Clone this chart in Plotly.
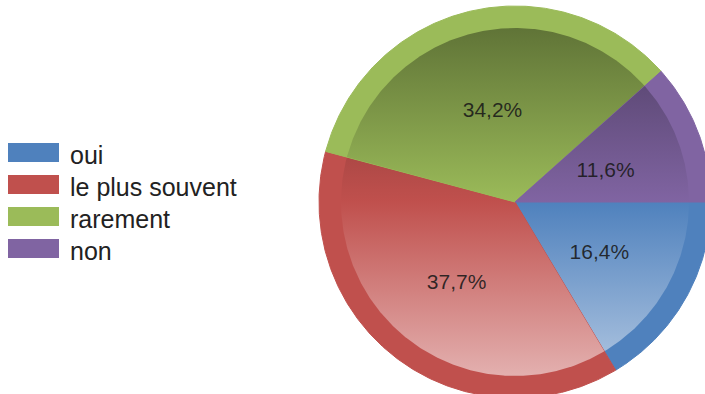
import numpy as np
import plotly.graph_objects as go

# Survey answers and their shares (%)
categories = ["oui", "le plus souvent", "rarement", "non"]
shares = [16.4, 37.7, 34.2, 11.6]
slice_colors = ["#4F81BD", "#C0504D", "#9BBB59", "#8064A2"]

# Canvas and pie geometry (pixel units, y pointing down)
W, H = 705, 394
CX, CY = 515, 202
R_OUT, R_IN, R_LABEL = 196, 174, 97
LABEL_DY = 4  # small downward nudge of the percentage labels

# Legend layout
LEG_X0, LEG_W, LEG_H = 8, 51, 19
LEG_TOP, LEG_STEP = 143, 32.0
FONT = "Arial, Liberation Sans, sans-serif"


def hex_rgb(h):
    h = h.lstrip("#")
    return tuple(int(h[i:i + 2], 16) for i in (0, 2, 4))


def rgb_str(c):
    return "rgb({},{},{})".format(*[int(round(v)) for v in c])


def darker(c, f):
    return tuple(v * f for v in c)


def lighter(c, f):
    return tuple(v + (255 - v) * f for v in c)


fig = go.Figure()

total = sum(shares)
angle = 0.0  # degrees, clockwise from 3 o'clock
label_x, label_y, label_txt = [], [], []
for name, val, col in zip(categories, shares, slice_colors):
    sweep = 360.0 * val / total
    theta = np.radians(np.linspace(angle, angle + sweep, max(4, int(sweep * 2))))
    rgb = hex_rgb(col)

    # outer rim of the slice
    xs = np.concatenate([[CX], CX + R_OUT * np.cos(theta), [CX]])
    ys = np.concatenate([[CY], CY + R_OUT * np.sin(theta), [CY]])
    fig.add_trace(go.Scatter(
        x=xs, y=ys, mode="lines", fill="toself", fillcolor=col,
        line=dict(color=col, width=1), hoverinfo="skip", showlegend=False,
    ))

    # shaded inner face of the slice (dark at top, light at bottom)
    xs = np.concatenate([[CX], CX + R_IN * np.cos(theta), [CX]])
    ys = np.concatenate([[CY], CY + R_IN * np.sin(theta), [CY]])
    fig.add_trace(go.Scatter(
        x=xs, y=ys, mode="lines", fill="toself",
        fillgradient=dict(
            type="vertical",
            colorscale=[[0, rgb_str(darker(rgb, 0.62))],
                        [0.5, rgb_str(rgb)],
                        [1, rgb_str(lighter(rgb, 0.55))]],
            start=CY - R_IN, stop=CY + R_IN,
        ),
        line=dict(width=0), hoverinfo="skip", showlegend=False,
    ))

    mid = np.radians(angle + sweep / 2)
    label_x.append(CX + R_LABEL * np.cos(mid))
    label_y.append(CY + R_LABEL * np.sin(mid) + LABEL_DY)
    label_txt.append(f"{val:.1f}%".replace(".", ","))
    angle += sweep

# percentage labels
fig.add_trace(go.Scatter(
    x=label_x, y=label_y, mode="text", text=label_txt,
    textposition="middle center",
    textfont=dict(family=FONT, size=21, color="rgba(25,25,25,0.88)"),
    hoverinfo="skip", showlegend=False,
))

# legend: colour swatches with category names
shapes, annotations = [], []
for i, (name, col) in enumerate(zip(categories, slice_colors)):
    top = LEG_TOP + i * LEG_STEP
    shapes.append(dict(type="rect", xref="x", yref="y",
                       x0=LEG_X0, x1=LEG_X0 + LEG_W, y0=top, y1=top + LEG_H,
                       fillcolor=col, line=dict(width=0), layer="above"))
    annotations.append(dict(x=LEG_X0 + LEG_W + 9, y=top + LEG_H / 2 + 2,
                            xref="x", yref="y", text=name, showarrow=False,
                            xanchor="left", yanchor="middle",
                            font=dict(family=FONT, size=25, color="#222222")))

fig.update_layout(
    width=W, height=H,
    margin=dict(l=0, r=0, t=0, b=0),
    paper_bgcolor="white", plot_bgcolor="white",
    shapes=shapes, annotations=annotations,
    xaxis=dict(range=[0, W], visible=False, fixedrange=True),
    yaxis=dict(range=[H, 0], visible=False, fixedrange=True),
    showlegend=False,
)

fig.write_html("out.html")
